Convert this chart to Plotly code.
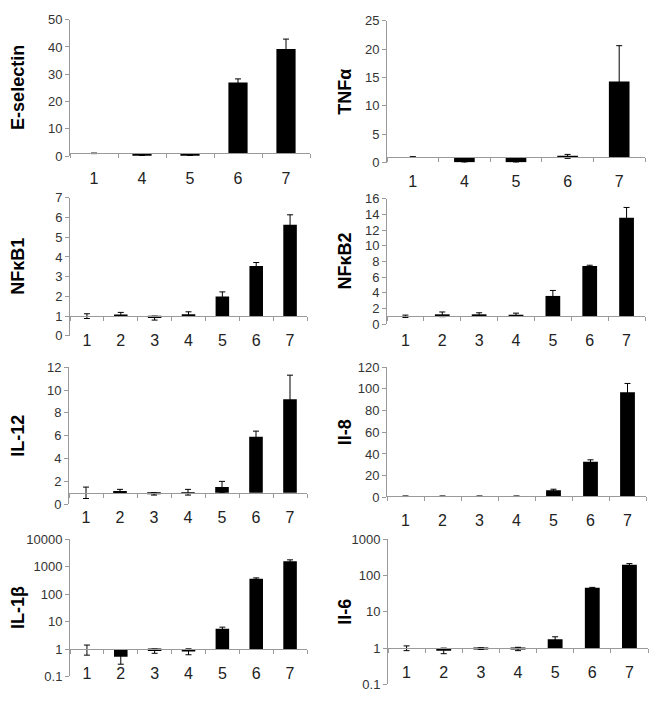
import math
import plotly.graph_objects as go

# ---------------- data ----------------
CATS_A = ["1", "4", "5", "6", "7"]
CATS_B = ["1", "2", "3", "4", "5", "6", "7"]

ESEL_VALS = [1.0, 0.15, 0.15, 27.0, 39.3]
ESEL_ERR = [0.1, 0.1, 0.1, 1.3, 3.6]

TNF_VALS = [1.0, 0.05, 0.05, 1.1, 14.3]
TNF_ERR = [0.05, 0.1, 0.1, 0.35, 6.3]

NFKB1_VALS = [1.0, 1.09, 0.9, 1.1, 2.0, 3.55, 5.64]
NFKB1_ERR = [0.12, 0.1, 0.1, 0.12, 0.23, 0.17, 0.5]

NFKB2_VALS = [1.0, 1.25, 1.25, 1.2, 3.6, 7.42, 13.6]
NFKB2_ERR = [0.15, 0.3, 0.2, 0.2, 0.7, 0.1, 1.3]

IL12_VALS = [1.0, 1.15, 0.9, 1.05, 1.5, 5.9, 9.2]
IL12_ERR = [0.5, 0.15, 0.1, 0.25, 0.5, 0.5, 2.1]

IL8_VALS = [1.0, 1.0, 1.0, 1.0, 6.5, 32.8, 97.0]
IL8_ERR = [0.3, 0.3, 0.3, 0.3, 1.0, 1.8, 8.0]

IL1B_VALS = [1.0, 0.52, 0.85, 0.82, 5.5, 370, 1600]
IL1B_ERR = [0.4, 0.24, 0.15, 0.2, 0.8, 25, 200]

IL6_VALS = [1.0, 0.85, 0.97, 0.95, 1.75, 46, 200]
IL6_ERR = [0.15, 0.15, 0.05, 0.1, 0.3, 1.5, 15]

LOG_TICKS_IL1B = [0.1, 1, 10, 100, 1000, 10000]
LOG_TEXT_IL1B = ["0.1", "1", "10", "100", "1000", "10000"]
LOG_TICKS_IL6 = [0.1, 1, 10, 100, 1000]
LOG_TEXT_IL6 = ["0.1", "1", "10", "100", "1000"]

BASELINE = 1.0

# ---------------- layout geometry (pixels) ----------------
W, H = 658, 706
panels = [
    dict(title="E-selectin", cats=CATS_A, vals=ESEL_VALS, err=ESEL_ERR,
         box=(70, 310, 13, 152.3), rng=(0, 50), dtick=10, tx=18),
    dict(title="TNFα", cats=CATS_A, vals=TNF_VALS, err=TNF_ERR,
         box=(387, 645, 14, 159), rng=(0, 25), dtick=5, tx=345),
    dict(title="NFκB1", cats=CATS_B, vals=NFKB1_VALS, err=NFKB1_ERR,
         box=(70, 307, 195, 336), rng=(0, 7), dtick=1, tx=18),
    dict(title="NFκB2", cats=CATS_B, vals=NFKB2_VALS, err=NFKB2_ERR,
         box=(387, 645, 196, 324), rng=(0, 16), dtick=2, tx=345),
    dict(title="IL-12", cats=CATS_B, vals=IL12_VALS, err=IL12_ERR,
         box=(69, 307, 368, 508), rng=(0, 12), dtick=2, tx=18),
    dict(title="Il-8", cats=CATS_B, vals=IL8_VALS, err=IL8_ERR,
         box=(387, 646, 368, 501), rng=(0, 120), dtick=20, tx=345),
    dict(title="IL-1β", cats=CATS_B, vals=IL1B_VALS, err=IL1B_ERR,
         box=(70, 307, 544, 684), rng=(-1, 4), log=True,
         tv=LOG_TICKS_IL1B, tt=LOG_TEXT_IL1B, tx=18),
    dict(title="Il-6", cats=CATS_B, vals=IL6_VALS, err=IL6_ERR,
         box=(388, 648, 544, 692), rng=(-1, 3), log=True,
         tv=LOG_TICKS_IL6, tt=LOG_TEXT_IL6, tx=345),
]

AXIS_COLOR = "#9a9a9a"
FONT = "Arial, Liberation Sans, sans-serif"

fig = go.Figure()
layout = dict(
    width=W, height=H, margin=dict(l=0, r=0, t=0, b=0),
    paper_bgcolor="white", plot_bgcolor="white", showlegend=False,
    font=dict(family=FONT, color="#222"), annotations=[],
)

for i, p in enumerate(panels, start=1):
    sfx = "" if i == 1 else str(i)
    x0, x1, yt, yb = p["box"]
    is_log = p.get("log", False)
    sizes = [v - BASELINE for v in p["vals"]]
    fig.add_trace(go.Bar(
        x=p["cats"], y=sizes, base=[BASELINE] * len(sizes),
        width=0.4, marker=dict(color="black", line=dict(width=0)),
        error_y=dict(type="data", array=p["err"], visible=True,
                     color="black", thickness=1, width=3),
        xaxis="x" + sfx, yaxis="y" + sfx, showlegend=False,
    ))
    lo, hi = p["rng"]
    bval = math.log10(BASELINE) if is_log else BASELINE
    frac = (bval - lo) / (hi - lo)
    line_px = yb - frac * (yb - yt)

    layout["xaxis" + sfx] = dict(
        domain=[x0 / W, x1 / W], anchor="free", position=1 - line_px / H,
        type="category", range=[-0.5, len(p["cats"]) - 0.5],
        showline=True, linecolor=AXIS_COLOR, linewidth=1,
        ticks="outside", tickson="boundaries", ticklen=4, tickcolor=AXIS_COLOR,
        tickfont=dict(size=16, color="#222", family=FONT),
        ticklabelstandoff=10, showgrid=False, zeroline=False, fixedrange=True,
    )
    ya = dict(
        domain=[1 - yb / H, 1 - yt / H], anchor="x" + sfx,
        range=[lo, hi], showline=True, linecolor=AXIS_COLOR, linewidth=1,
        ticks="outside", ticklen=4, tickcolor=AXIS_COLOR,
        tickfont=dict(size=13, color="#333", family=FONT),
        showgrid=False, zeroline=False, fixedrange=True,
    )
    if is_log:
        ya.update(type="log", tickvals=p["tv"], ticktext=p["tt"])
    else:
        ya.update(tick0=0, dtick=p["dtick"])
    layout["yaxis" + sfx] = ya

    layout["annotations"].append(dict(
        text=p["title"], xref="paper", yref="paper",
        x=p["tx"] / W, y=1 - (yt + yb) / 2 / H,
        xanchor="center", yanchor="middle", textangle=-90, showarrow=False,
        font=dict(size=18, color="black", family=FONT, weight="bold"),
    ))

fig.update_layout(**layout)
fig.write_html(
    "out.html",
    config={"displayModeBar": False},
    post_script="document.body.style.margin='0';document.body.style.overflow='hidden';",
)
